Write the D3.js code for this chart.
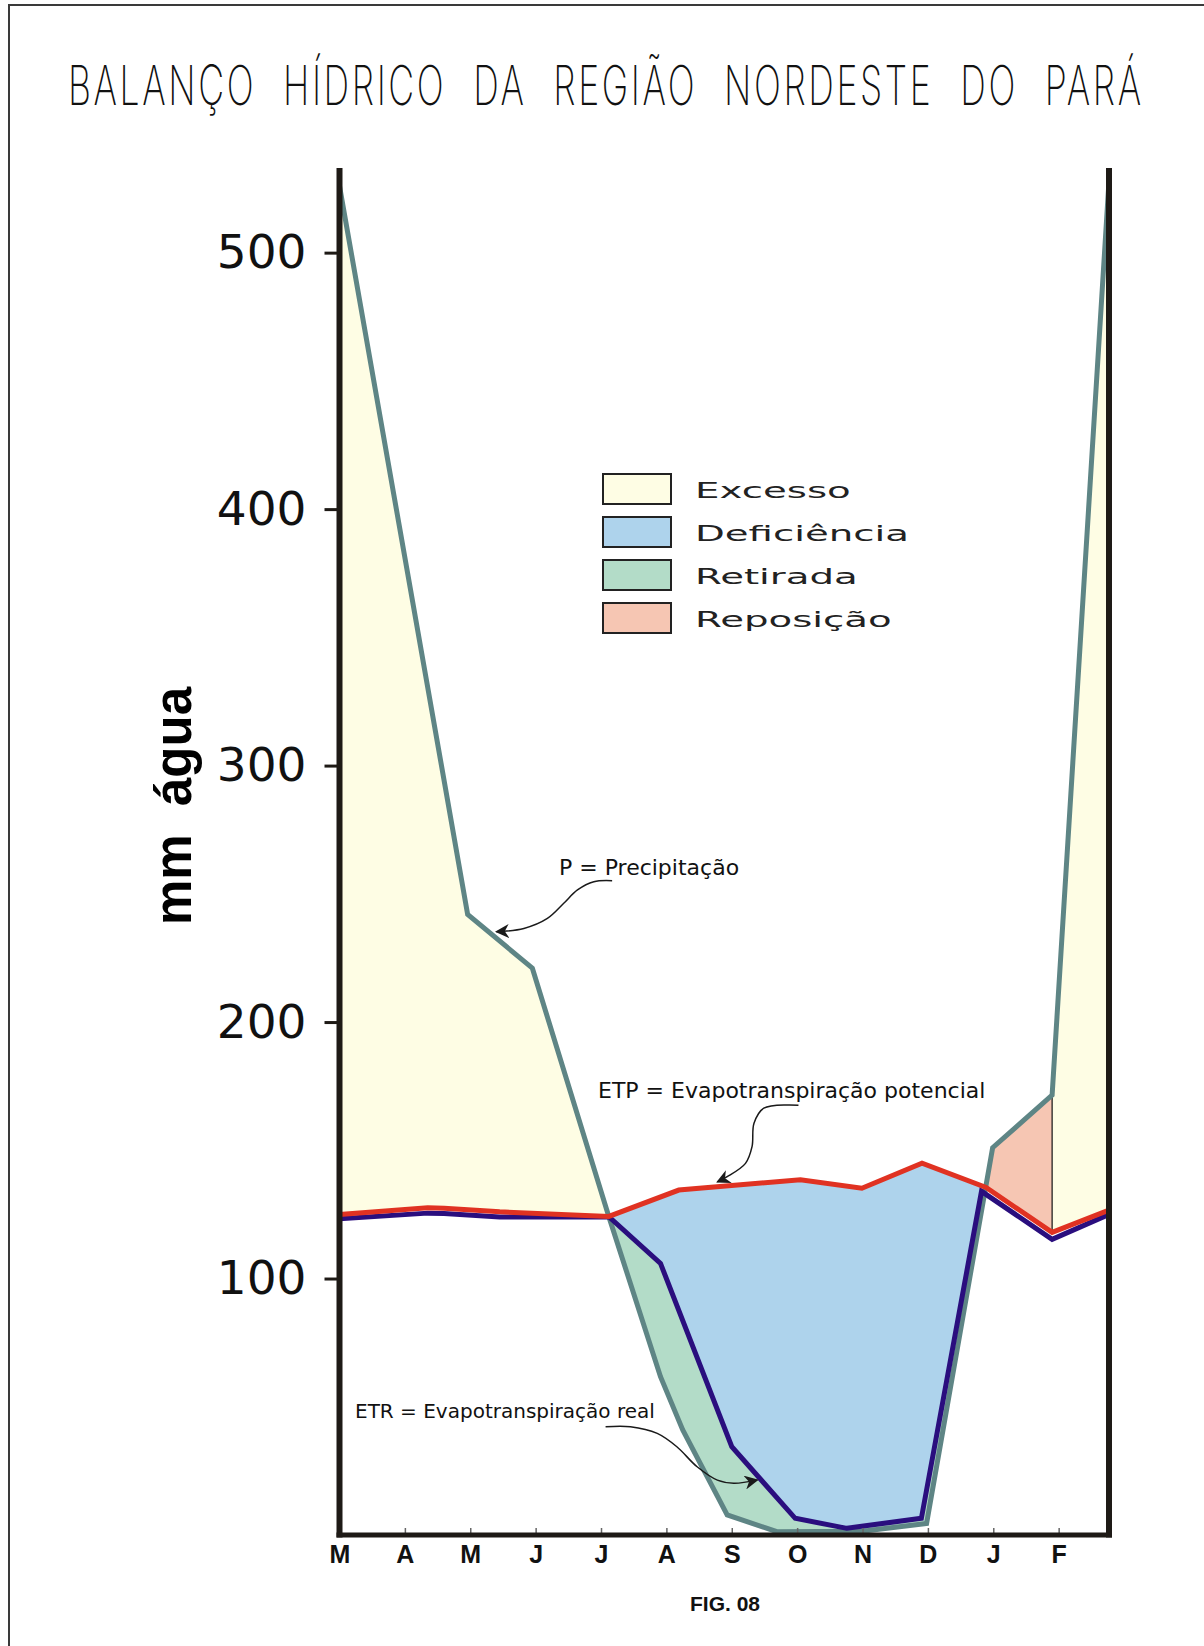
<!DOCTYPE html>
<html lang="pt">
<head>
<meta charset="UTF-8">
<title>Balanço Hídrico da Região Nordeste do Pará</title>
<script src="https://d3js.org/d3.v7.min.js"></script>
<style>
  body { margin: 0; background: #fff; }
  svg { display: block; }
  .y-axis text { font-family: "DejaVu Sans", sans-serif; font-size: 47px; fill: #111; }
  .x-axis text { font-family: "Liberation Sans", Arial, sans-serif; font-weight: bold; font-size: 25px; fill: #111; }
  .note { font-family: "DejaVu Sans", sans-serif; fill: #111; }
  .legend text { font-family: "DejaVu Sans", sans-serif; font-size: 22px; fill: #222; }
</style>
</head>
<body>
<svg id="chart" width="1204" height="1646"></svg>
<script>
// ---------------------------------------------
// DADOS
// ---------------------------------------------
const months = ["M", "A", "M", "J", "J", "A", "S", "O", "N", "D", "J", "F"];
const yTicks = [100, 200, 300, 400, 500];

// P = Precipitação : posição (meses desde março) e valor (mm)
const pMonth = [0, 1.96, 2.95, 4.12, 4.91, 5.25, 5.93, 6.69, 8.0, 8.98, 9.99, 10.9, 11.77];
const pValue = [526, 242, 221, 124.1, 61.7, 41, 7.8, 1.3, 1.5, 4.5, 151, 171.5, 528];

// ETP = Evapotranspiração potencial
const etpMonth = [0, 1.35, 1.6, 2.45, 4.12, 5.19, 7.05, 7.99, 8.91, 9.89, 10.9, 11.77];
const etpValue = [125, 127.6, 127.4, 126, 124.2, 134.5, 138.5, 135.2, 145, 135.5, 118, 126.7];

// ETR = Evapotranspiração real
const etrMonth = [0, 1.35, 1.6, 2.45, 4.12, 4.91, 6.0, 6.97, 7.76, 8.9, 9.82, 10.9, 11.77];
const etrValue = [123.3, 125.5, 125.4, 124, 124.1, 105.9, 34.4, 6.5, 2.6, 6.5, 134, 115.3, 125];

// período de reposição (meses)
const reposicaoSpan = [9, 10.9];

const legendLabels = ["Excesso", "Deficiência", "Retirada", "Reposição"];
const legendColors = ["#fefde4", "#aed3ec", "#b3dcc8", "#f6c6b3"];

// ---------------------------------------------
// ESCALAS
// ---------------------------------------------
const svg = d3.select("#chart");
const plotLeft = 339.5, plotRight = 1109, plotTop = 168, plotBottom = 1535;

const x = d3.scaleLinear().domain([0, d3.max(pMonth)]).range([plotLeft, plotRight]);
const y = d3.scaleLinear().domain([0, 533]).range([plotBottom, plotTop]);

const zip = (ms, vs) => ms.map((m, i) => [m, vs[i]]);
const P = zip(pMonth, pValue);
const ETP = zip(etpMonth, etpValue);
const ETR = zip(etrMonth, etrValue);

const line = d3.line().x(d => x(d[0])).y(d => y(d[1]));
const below = d3.area().x(d => x(d[0])).y0(plotBottom).y1(d => y(d[1]));
const above = d3.area().x(d => x(d[0])).y0(0).y1(d => y(d[1]));

// moldura
svg.append("path")
    .attr("d", "M9,1650 V5 H1210")
    .attr("fill", "none")
    .attr("stroke", "#3a3a3a")
    .attr("stroke-width", 2);

// título
const title = svg.append("text")
    .attr("font-family", "Inter, Lato, 'DejaVu Sans', sans-serif")
    .attr("font-weight", 200)
    .attr("font-size", 55)
    .attr("letter-spacing", 4)
    .attr("word-spacing", 22)
    .attr("fill", "#111")
    .text("BALANÇO HÍDRICO DA REGIÃO NORDESTE DO PARÁ");
const tw = title.node().getComputedTextLength();
title.attr("transform", `translate(68,105) scale(${1076 / tw},1)`);

// ---------------------------------------------
// RECORTES
// ---------------------------------------------
const defs = svg.append("defs");
defs.append("clipPath").attr("id", "above-p").append("path").attr("d", above(P));
defs.append("clipPath").attr("id", "above-etp").append("path").attr("d", above(ETP));
defs.append("clipPath").attr("id", "above-etr").append("path").attr("d", above(ETR));
defs.append("clipPath").attr("id", "repo").append("rect")
    .attr("x", x(reposicaoSpan[0])).attr("y", 0)
    .attr("width", x(reposicaoSpan[1]) - x(reposicaoSpan[0])).attr("height", 1646);
const notRepo = defs.append("clipPath").attr("id", "not-repo");
notRepo.append("rect").attr("x", 0).attr("y", 0)
    .attr("width", x(reposicaoSpan[0])).attr("height", 1646);
notRepo.append("rect").attr("x", x(reposicaoSpan[1])).attr("y", 0)
    .attr("width", 1204 - x(reposicaoSpan[1])).attr("height", 1646);

// ---------------------------------------------
// ÁREAS
// ---------------------------------------------
// Excesso: P acima de ETP
svg.append("g").attr("clip-path", "url(#above-etp)")
  .append("g").attr("clip-path", "url(#not-repo)")
  .append("path").attr("d", below(P)).attr("fill", legendColors[0]);

// Reposição
svg.append("g").attr("clip-path", "url(#above-etp)")
  .append("g").attr("clip-path", "url(#repo)")
  .append("path").attr("d", below(P)).attr("fill", legendColors[3]);

// Deficiência: entre ETR e ETP
svg.append("g").attr("clip-path", "url(#above-etr)")
  .append("g").attr("clip-path", "url(#above-p)")
  .append("path").attr("d", below(ETP)).attr("fill", legendColors[1]);

// Retirada: entre P e ETR
svg.append("g").attr("clip-path", "url(#above-p)")
  .append("path").attr("d", below(ETR)).attr("fill", legendColors[2]);

// linha vertical do fim da reposição
svg.append("line")
    .attr("x1", x(pMonth[11])).attr("x2", x(etpMonth[10]))
    .attr("y1", y(pValue[11])).attr("y2", y(etpValue[10]))
    .attr("stroke", "#111").attr("stroke-width", 1.2);

// ---------------------------------------------
// LINHAS
// ---------------------------------------------
svg.append("path").attr("d", line(P))
    .attr("fill", "none").attr("stroke", "#5e8585").attr("stroke-width", 5);
svg.append("path").attr("d", line(ETR))
    .attr("fill", "none").attr("stroke", "#2a0e7e").attr("stroke-width", 5);
svg.append("path").attr("d", line(ETP))
    .attr("fill", "none").attr("stroke", "#e03222").attr("stroke-width", 5);

// ---------------------------------------------
// EIXOS
// ---------------------------------------------
const yAxis = svg.append("g").attr("class", "y-axis")
    .attr("transform", `translate(${plotLeft},0)`)
    .call(d3.axisLeft(y).tickValues(yTicks).tickSize(15).tickPadding(18));
yAxis.select(".domain").remove();
yAxis.selectAll(".tick line").attr("stroke", "#1e1a16").attr("stroke-width", 3);

const xAxis = svg.append("g").attr("class", "x-axis")
    .attr("transform", `translate(0,${plotBottom})`)
    .call(d3.axisBottom(x).tickValues(d3.range(months.length))
        .tickFormat(i => months[i]).tickSizeInner(-7).tickSizeOuter(0).tickPadding(10));
xAxis.select(".domain").remove();
xAxis.selectAll(".tick line").attr("stroke", "#666").attr("stroke-width", 1.5);

const axisColor = "#1e1a16";
svg.append("line").attr("x1", plotLeft).attr("x2", plotLeft).attr("y1", plotTop).attr("y2", plotBottom + 2.5)
    .attr("stroke", axisColor).attr("stroke-width", 6);
svg.append("line").attr("x1", plotRight).attr("x2", plotRight).attr("y1", plotTop).attr("y2", plotBottom + 2.5)
    .attr("stroke", axisColor).attr("stroke-width", 6);
svg.append("line").attr("x1", plotLeft - 3).attr("x2", plotRight + 3).attr("y1", plotBottom).attr("y2", plotBottom)
    .attr("stroke", axisColor).attr("stroke-width", 5);

// título do eixo y
svg.append("text")
    .attr("transform", "translate(191,806) rotate(-90)")
    .attr("text-anchor", "middle")
    .attr("font-family", "'Liberation Sans', Arial, sans-serif")
    .attr("font-weight", "bold")
    .attr("font-size", 51)
    .attr("fill", "#000")
    .text("mm\u00a0\u00a0água");

// ---------------------------------------------
// LEGENDA
// ---------------------------------------------
const legend = svg.append("g").attr("class", "legend");
legendLabels.forEach((label, i) => {
    legend.append("rect")
        .attr("x", 603).attr("y", 474 + i * 43)
        .attr("width", 68).attr("height", 30)
        .attr("fill", legendColors[i])
        .attr("stroke", "#222").attr("stroke-width", 2);
    legend.append("text")
        .attr("transform", `translate(695,${498 + i * 43}) scale(1.76,1)`)
        .text(label);
});

// ---------------------------------------------
// ANOTAÇÕES
// ---------------------------------------------
defs.append("marker")
    .attr("id", "arrow")
    .attr("viewBox", "0 0 10 10")
    .attr("refX", 9).attr("refY", 5)
    .attr("markerWidth", 14).attr("markerHeight", 14)
    .attr("markerUnits", "userSpaceOnUse")
    .attr("orient", "auto")
    .append("path").attr("d", "M0,0 L10,5 L0,10 L3,5 Z").attr("fill", "#1a1a1a");

const arrowP = [[4.17, 255.1], [3.89, 254.7], [3.64, 251.5], [3.43, 246.3], [3.18, 240.4], [2.82, 236.5], [2.40, 235.2]];
const arrowETP = [[7.02, 167.6], [6.49, 166.4], [6.34, 160.5], [6.31, 151.4], [6.21, 144.9], [5.93, 139.7], [5.78, 137.7]];
const arrowETR = [[4.07, 42.2], [4.45, 42.2], [4.86, 39.6], [5.16, 34.4], [5.47, 26.6], [5.78, 21.4], [6.03, 20.2], [6.39, 21.4]];

const curve = d3.line().x(d => x(d[0])).y(d => y(d[1])).curve(d3.curveCatmullRom);
[arrowP, arrowETP, arrowETR].forEach(a => {
    svg.append("path").attr("d", curve(a))
        .attr("fill", "none").attr("stroke", "#1a1a1a").attr("stroke-width", 1.5)
        .attr("marker-end", "url(#arrow)");
});

svg.append("text").attr("class", "note").attr("x", 559).attr("y", 875)
    .attr("font-size", 22).text("P = Precipitação");
svg.append("text").attr("class", "note").attr("x", 598).attr("y", 1098)
    .attr("font-size", 22).text("ETP = Evapotranspiração potencial");
svg.append("text").attr("class", "note").attr("x", 355).attr("y", 1418)
    .attr("font-size", 20).text("ETR = Evapotranspiração real");

svg.append("text")
    .attr("x", 725).attr("y", 1611)
    .attr("text-anchor", "middle")
    .attr("font-family", "'Liberation Sans', Arial, sans-serif")
    .attr("font-weight", "bold")
    .attr("font-size", 21)
    .attr("fill", "#111")
    .text("FIG. 08");
</script>
</body>
</html>
